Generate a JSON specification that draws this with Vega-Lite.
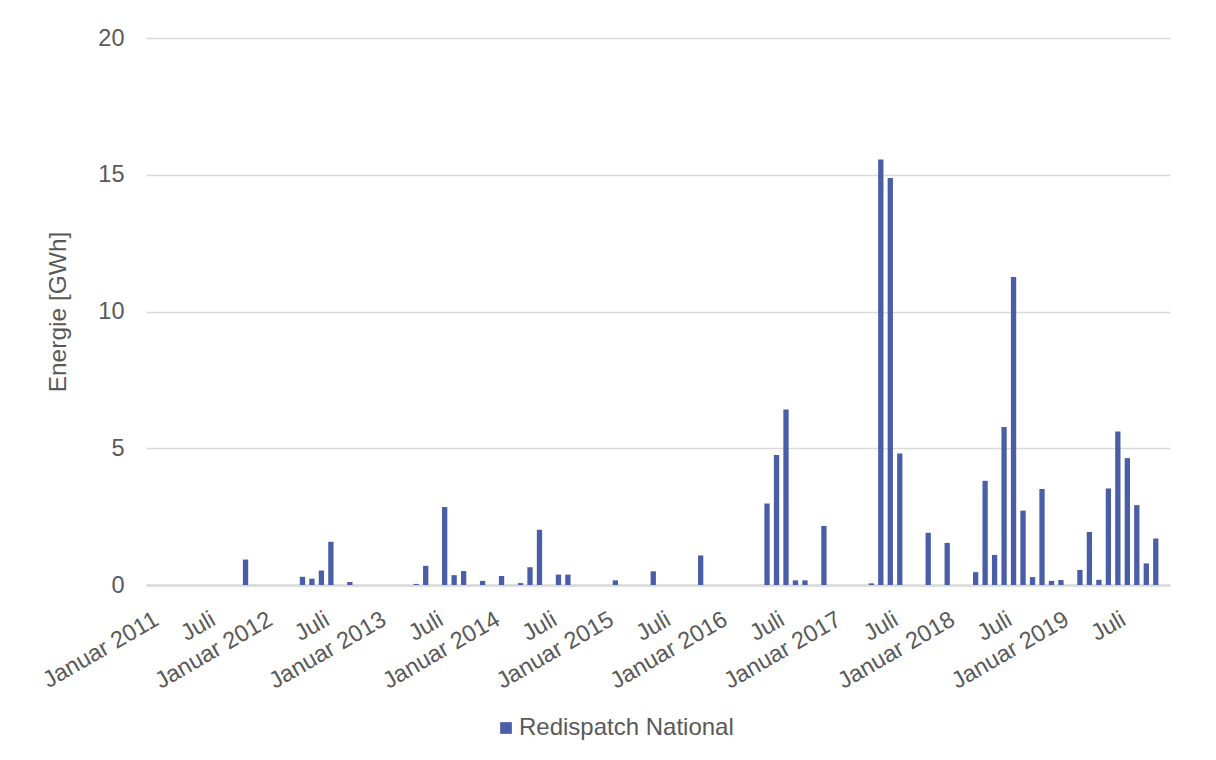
{
  "$schema": "https://vega.github.io/schema/vega-lite/v6.json",
  "autosize": "none",
  "width": 1024,
  "height": 547,
  "padding": {"left": 146, "top": 38, "right": 46, "bottom": 175},
  "background": "white",
  "config": {
    "font": "Liberation Sans",
    "view": {"stroke": null},
    "axis": {
      "labelFont": "Liberation Sans",
      "titleFont": "Liberation Sans",
      "labelColor": "#595959",
      "titleColor": "#595959",
      "labelFontSize": 23.5,
      "titleFontSize": 24.5,
      "titleFontWeight": "normal"
    }
  },
  "data": {
    "values": [
      {"monat": "2011-01", "wert": 0}, {"monat": "2011-02", "wert": 0}, {"monat": "2011-03", "wert": 0},
      {"monat": "2011-04", "wert": 0}, {"monat": "2011-05", "wert": 0}, {"monat": "2011-06", "wert": 0},
      {"monat": "2011-07", "wert": 0}, {"monat": "2011-08", "wert": 0}, {"monat": "2011-09", "wert": 0},
      {"monat": "2011-10", "wert": 0}, {"monat": "2011-11", "wert": 0.93}, {"monat": "2011-12", "wert": 0},
      {"monat": "2012-01", "wert": 0}, {"monat": "2012-02", "wert": 0}, {"monat": "2012-03", "wert": 0},
      {"monat": "2012-04", "wert": 0}, {"monat": "2012-05", "wert": 0.30}, {"monat": "2012-06", "wert": 0.23},
      {"monat": "2012-07", "wert": 0.53}, {"monat": "2012-08", "wert": 1.58}, {"monat": "2012-09", "wert": 0},
      {"monat": "2012-10", "wert": 0.11}, {"monat": "2012-11", "wert": 0}, {"monat": "2012-12", "wert": 0},
      {"monat": "2013-01", "wert": 0}, {"monat": "2013-02", "wert": 0}, {"monat": "2013-03", "wert": 0},
      {"monat": "2013-04", "wert": 0}, {"monat": "2013-05", "wert": 0.04}, {"monat": "2013-06", "wert": 0.70},
      {"monat": "2013-07", "wert": 0}, {"monat": "2013-08", "wert": 2.85}, {"monat": "2013-09", "wert": 0.36},
      {"monat": "2013-10", "wert": 0.51}, {"monat": "2013-11", "wert": 0}, {"monat": "2013-12", "wert": 0.15},
      {"monat": "2014-01", "wert": 0}, {"monat": "2014-02", "wert": 0.33}, {"monat": "2014-03", "wert": 0},
      {"monat": "2014-04", "wert": 0.07}, {"monat": "2014-05", "wert": 0.65}, {"monat": "2014-06", "wert": 2.02},
      {"monat": "2014-07", "wert": 0}, {"monat": "2014-08", "wert": 0.38}, {"monat": "2014-09", "wert": 0.38},
      {"monat": "2014-10", "wert": 0}, {"monat": "2014-11", "wert": 0}, {"monat": "2014-12", "wert": 0},
      {"monat": "2015-01", "wert": 0}, {"monat": "2015-02", "wert": 0.17}, {"monat": "2015-03", "wert": 0},
      {"monat": "2015-04", "wert": 0}, {"monat": "2015-05", "wert": 0}, {"monat": "2015-06", "wert": 0.50},
      {"monat": "2015-07", "wert": 0}, {"monat": "2015-08", "wert": 0}, {"monat": "2015-09", "wert": 0},
      {"monat": "2015-10", "wert": 0}, {"monat": "2015-11", "wert": 1.08}, {"monat": "2015-12", "wert": 0},
      {"monat": "2016-01", "wert": 0}, {"monat": "2016-02", "wert": 0}, {"monat": "2016-03", "wert": 0},
      {"monat": "2016-04", "wert": 0}, {"monat": "2016-05", "wert": 0}, {"monat": "2016-06", "wert": 2.98},
      {"monat": "2016-07", "wert": 4.75}, {"monat": "2016-08", "wert": 6.42}, {"monat": "2016-09", "wert": 0.17},
      {"monat": "2016-10", "wert": 0.17}, {"monat": "2016-11", "wert": 0}, {"monat": "2016-12", "wert": 2.16},
      {"monat": "2017-01", "wert": 0}, {"monat": "2017-02", "wert": 0}, {"monat": "2017-03", "wert": 0},
      {"monat": "2017-04", "wert": 0}, {"monat": "2017-05", "wert": 0.06}, {"monat": "2017-06", "wert": 15.56},
      {"monat": "2017-07", "wert": 14.88}, {"monat": "2017-08", "wert": 4.81}, {"monat": "2017-09", "wert": 0},
      {"monat": "2017-10", "wert": 0}, {"monat": "2017-11", "wert": 1.91}, {"monat": "2017-12", "wert": 0},
      {"monat": "2018-01", "wert": 1.54}, {"monat": "2018-02", "wert": 0}, {"monat": "2018-03", "wert": 0},
      {"monat": "2018-04", "wert": 0.47}, {"monat": "2018-05", "wert": 3.81}, {"monat": "2018-06", "wert": 1.10},
      {"monat": "2018-07", "wert": 5.78}, {"monat": "2018-08", "wert": 11.26}, {"monat": "2018-09", "wert": 2.72},
      {"monat": "2018-10", "wert": 0.29}, {"monat": "2018-11", "wert": 3.51}, {"monat": "2018-12", "wert": 0.15},
      {"monat": "2019-01", "wert": 0.18}, {"monat": "2019-02", "wert": 0}, {"monat": "2019-03", "wert": 0.55},
      {"monat": "2019-04", "wert": 1.94}, {"monat": "2019-05", "wert": 0.19}, {"monat": "2019-06", "wert": 3.53},
      {"monat": "2019-07", "wert": 5.61}, {"monat": "2019-08", "wert": 4.64}, {"monat": "2019-09", "wert": 2.92},
      {"monat": "2019-10", "wert": 0.79}, {"monat": "2019-11", "wert": 1.70}, {"monat": "2019-12", "wert": 0}
    ]
  },
  "transform": [{"calculate": "'Redispatch National'", "as": "reihe"}],
  "mark": {"type": "bar"},
  "encoding": {
    "x": {
      "field": "monat",
      "type": "ordinal",
      "scale": {"paddingInner": 0.44, "paddingOuter": 0.22},
      "axis": {
        "title": null,
        "labelExpr": "slice(datum.value, 5) == '01' ? 'Januar ' + slice(datum.value, 0, 4) : (slice(datum.value, 5) == '07' ? 'Juli' : '')",
        "labelAngle": -30,
        "labelAlign": "right",
        "labelBaseline": "top",
        "labelPadding": 22,
        "labelDx": -13,
        "labelOverlap": false,
        "labelBound": false,
        "ticks": false,
        "domainColor": "#D9D9D9",
        "domainWidth": 2.5,
        "grid": false
      }
    },
    "y": {
      "field": "wert",
      "type": "quantitative",
      "scale": {"domain": [0, 20]},
      "axis": {
        "title": "Energie [GWh]",
        "values": [0, 5, 10, 15, 20],
        "domain": false,
        "ticks": false,
        "labelPadding": 22,
        "titlePadding": 27,
        "gridColor": "#D9D9D9",
        "gridWidth": 1.5
      }
    },
    "color": {
      "field": "reihe",
      "type": "nominal",
      "scale": {"range": ["#4a5ea8"]},
      "legend": {
        "title": null,
        "orient": "none",
        "legendX": 348,
        "legendY": 678,
        "symbolType": "square",
        "symbolSize": 137,
        "symbolStrokeWidth": 0,
        "labelFont": "Liberation Sans",
        "labelFontSize": 24,
        "labelColor": "#595959",
        "labelOffset": 1,
        "labelLimit": 0
      }
    }
  }
}
